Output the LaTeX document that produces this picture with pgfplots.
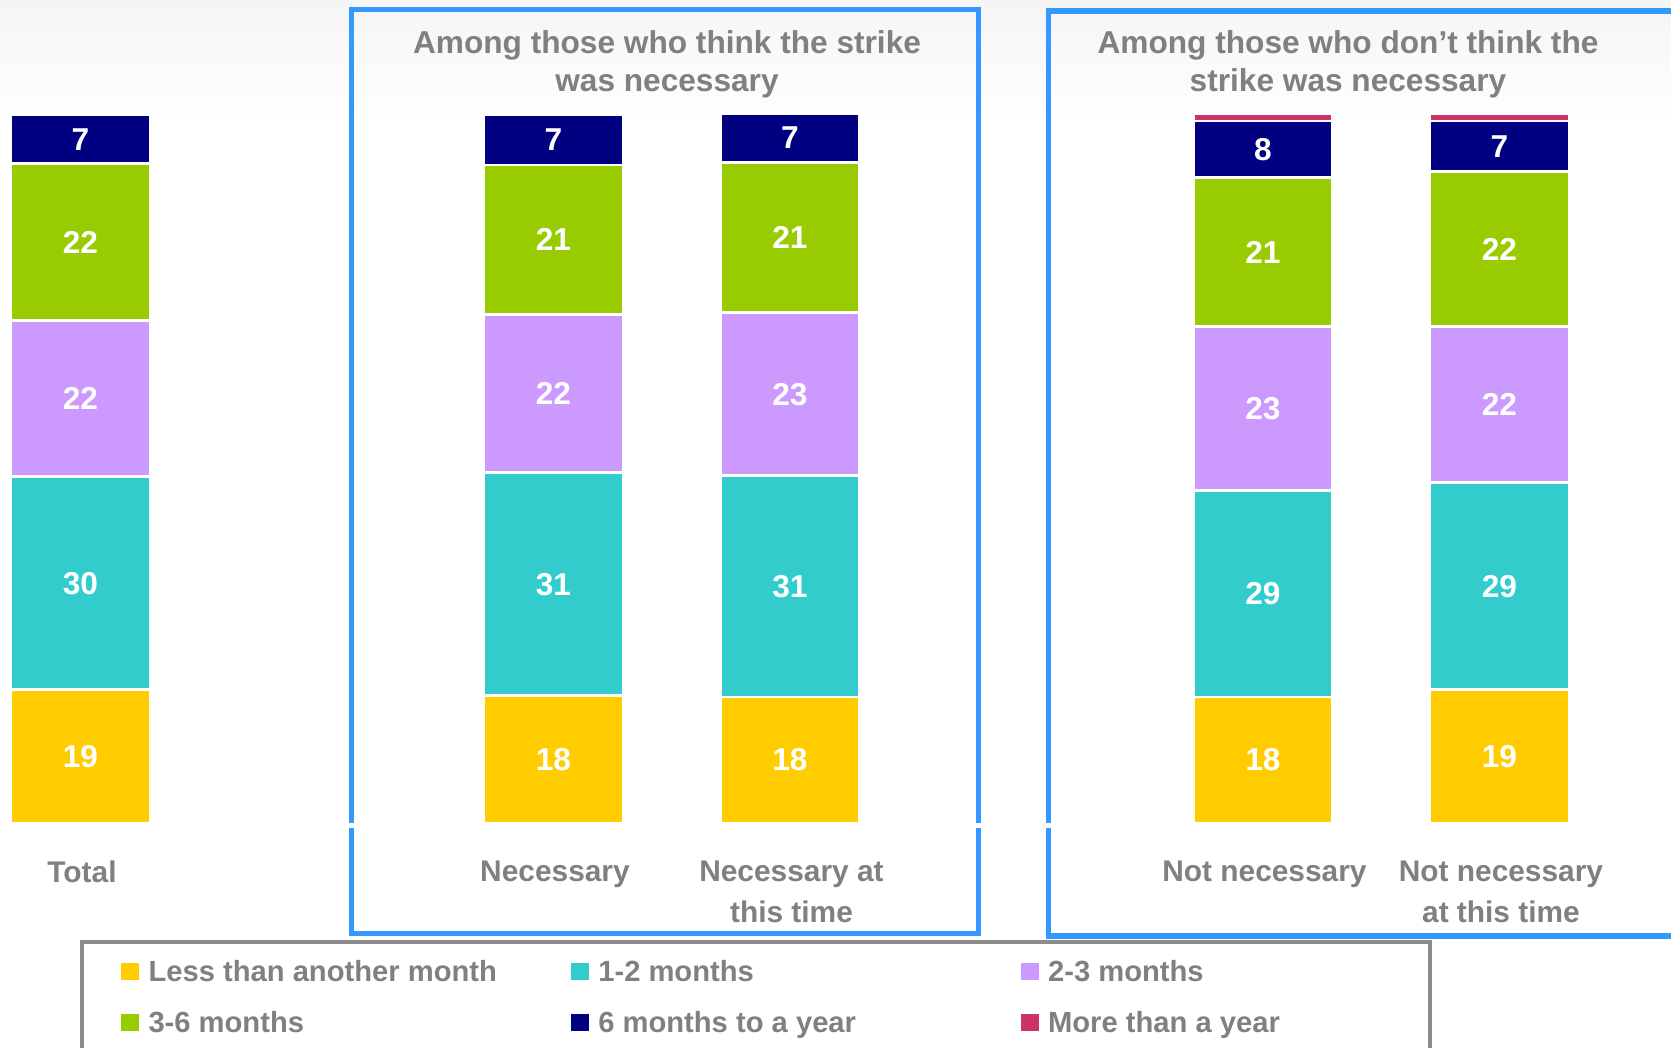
\documentclass[border=0pt]{standalone}
\usepackage{pgfplots}
\pgfplotsset{compat=1.18}
\usepackage{fontspec}
\setmainfont{Liberation Sans}

\definecolor{cYel}{RGB}{255,204,0}
\definecolor{cTeal}{RGB}{51,204,204}
\definecolor{cLav}{RGB}{204,153,255}
\definecolor{cGrn}{RGB}{153,204,0}
\definecolor{cNavy}{RGB}{0,0,128}
\definecolor{cRed}{RGB}{204,51,102}
\definecolor{frameblue}{RGB}{51,153,255}
\definecolor{txtgray}{RGB}{128,128,128}

% one segment colour, white gaps, small square in the legend
\pgfplotsset{
  seg/.style={fill=#1, draw=white, line width=0.8pt,
    legend image code/.code={\fill[#1] (0cm,-0.05cm) rectangle (0.15cm,0.10cm);}},
  lab/.style={nodes near coords={\pgfmathprintnumber[fixed,precision=0,assume math mode=true]{\rawy}},
    every node near coord/.append style={font=\bfseries\fontsize{9}{10}\selectfont,
      text=white, anchor=center}},
}

\begin{document}
\begin{tikzpicture}
\shade[top color=black!4, bottom color=white] (0,9.2) rectangle (16.71,10.47);

\begin{axis}[
  at={(0.0955cm,2.238cm)}, anchor=south west,
  scale only axis, width=16.555cm, height=7.092cm,
  xmin=-0.3, xmax=6.7, ymin=0, ymax=100,
  ybar stacked, bar width=1.39cm,
  clip=false,
  axis line style={draw=none}, major tick length=0pt,
  ytick=\empty,
  xtick={0,2,3,5,6},
  xticklabels={Total, Necessary, {Necessary at\\this time}, Not necessary, {Not necessary\\at this time}},
  xticklabel style={font=\bfseries\fontsize{8.5}{11.5}\selectfont, text=txtgray,
    align=center, inner sep=0pt, anchor=north, yshift=-0.372cm, xshift=0.015cm},
  visualization depends on=rawy\as\rawy,
  legend columns=3, legend cell align=left,
  legend style={at={(0.06702,-0.1923)}, anchor=north west, draw=none, fill=none,
    inner sep=0pt, font=\bfseries\fontsize{8.3}{10}\selectfont, text=txtgray,
    row sep=0.236cm, nodes={inner sep=0pt, text height=6pt, text depth=1.8pt},
    /tikz/every odd column/.append style={column sep=0.095cm},
    /tikz/every even column/.append style={column sep=0.025cm}},
]
\addplot[seg=cYel, lab]  coordinates {(0,18.8) (2,18.0) (3,17.8) (5,17.8) (6,18.8)};
\addplot[seg=cTeal, lab] coordinates {(0,30.1) (2,31.4) (3,31.2) (5,29.1) (6,29.2)};
\addplot[seg=cLav, lab]  coordinates {(0,22.0) (2,22.3) (3,23.0) (5,23.1) (6,22.0)};
\addplot[seg=cGrn, lab]  coordinates {(0,22.1) (2,21.1) (3,21.2) (5,21.0) (6,21.9)};
\addplot[seg=cNavy, lab] coordinates {(0,6.9) (2,7.1) (3,6.8) (5,8.0) (6,7.1)};
\addplot[seg=cRed]       coordinates {(0,0) (2,0) (3,0) (5,1.0) (6,1.0)};
\legend{\makebox[4.2cm][l]{Less than another month}, \makebox[4.2cm][l]{1-2 months},
  \makebox[4.2cm][l]{2-3 months}, \makebox[4.2cm][l]{3-6 months},
  \makebox[4.2cm][l]{6 months to a year}, \makebox[4.2cm][l]{More than a year}}
\end{axis}

% group frames and headings
\draw[frameblue, line width=1.4pt] (3.517,1.135) rectangle (9.783,10.374);
\draw[frameblue, line width=1.6pt] (10.486,1.113) rectangle (17.5,10.363);
\draw[white, line width=1.2pt] (0,2.215) -- (16.71,2.215);
\node[font=\bfseries\fontsize{9}{10.9}\selectfont, text=txtgray, align=center]
  at (6.67,9.825) {Among those who think the strike\\was necessary};
\node[font=\bfseries\fontsize{9}{10.9}\selectfont, text=txtgray, align=center]
  at (13.48,9.825) {Among those who don’t think the\\strike was necessary};

% legend frame, cut by the page edge
\draw[black!45, line width=0.9pt] (0.82,-0.5) rectangle (14.30,1.05);

\pgfresetboundingbox
\useasboundingbox (0,0) rectangle (16.71,10.47);
\end{tikzpicture}
\end{document}
